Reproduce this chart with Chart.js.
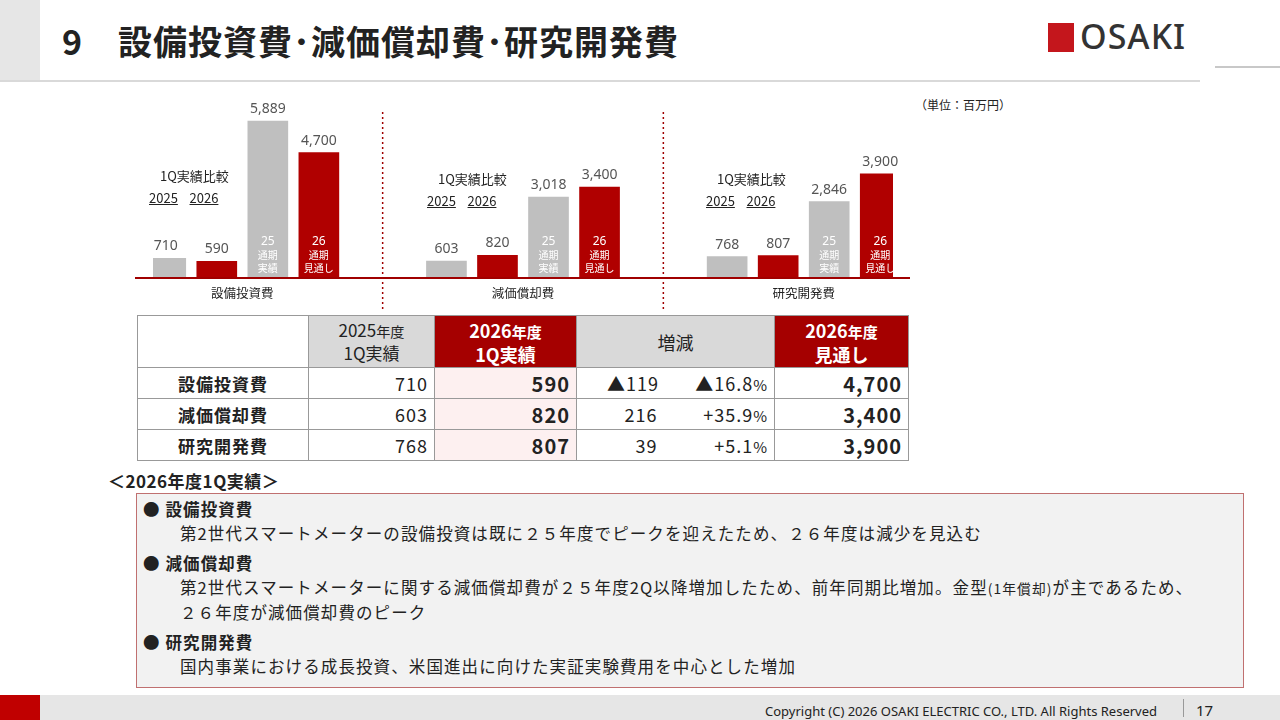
<!DOCTYPE html>
<html><head><meta charset="utf-8">
<script src="https://cdn.jsdelivr.net/npm/chart.js@4"></script>
<style>
body{margin:0;width:1280px;height:720px;position:relative;background:#fff;font-family:"Noto Sans CJK JP","Noto Sans",sans-serif;color:#222;overflow:hidden}
.abs{position:absolute}
#side{left:0;top:0;width:40px;height:80px;background:#e6e6e6}
#title{left:62px;top:16px;font-size:34px;font-weight:bold;letter-spacing:1px;white-space:nowrap}
#hline{left:0;top:80px;width:1200px;height:2px;background:#d9d9d9}
#hline2{left:1215px;top:66px;width:65px;height:2px;background:#c8c8c8}
#logo{left:1048px;top:13px;font-size:34px;font-family:"Noto Sans";font-weight:500;color:#333;letter-spacing:1px}
#logo span{display:inline-block;width:26px;height:29px;background:#c4161c;vertical-align:-3px;margin-right:6px}
#unit{left:915px;top:96px;font-size:12px}
canvas{position:absolute;left:131px;top:95px}
.sub{font-size:13px;text-align:center;white-space:nowrap}
.u{text-decoration:underline}
table{position:absolute;left:137px;top:315px;border-collapse:collapse;font-size:18px;table-layout:fixed;width:771px}
td{border:1px solid #999;height:30px;padding:0 6px;letter-spacing:1px}
th{border:1px solid #999;font-weight:normal;font-size:17px;line-height:22px}
.r{text-align:right}
.rh{background:#a50000;color:#fff;font-weight:bold;font-size:18px}
.g{background:#d9d9d9}
.p{background:#fdf0f0;font-weight:bold;font-size:20px}
.b{font-weight:bold;font-size:20px}
#box{left:136px;top:493px;width:1106px;height:193px;background:#f2f2f2;border:1px solid #c07070}
#box div{font-size:16.5px;line-height:24px;letter-spacing:1.1px;white-space:nowrap}
#footer{left:0;top:695px;width:1280px;height:25px;background:#e6e6e6}
#fred{left:0;top:695px;width:40px;height:25px;background:#c00000}
#copy{left:765px;top:702px;font-size:13px;font-family:"Noto Sans"}
#page{left:1196px;top:700px;font-size:15px;font-family:"Noto Sans"}
</style></head><body>
<div id="side" class="abs"></div>
<div id="title" class="abs">9　設備投資費･減価償却費･研究開発費</div>
<div id="hline" class="abs"></div><div id="hline2" class="abs"></div>
<div id="logo" class="abs"><span></span>OSAKI</div>
<div id="unit" class="abs">（単位：百万円）</div>
<canvas id="c" width="779" height="215"></canvas>
<div class="abs sub" style="left:160px;top:166px">1Q実績比較</div>
<div class="abs sub" style="left:149px;top:188px"><span class="u">2025</span>&nbsp;&nbsp;&nbsp;&nbsp;<span class="u">2026</span></div>
<div class="abs sub" style="left:438px;top:169px">1Q実績比較</div>
<div class="abs sub" style="left:427px;top:191px"><span class="u">2025</span>&nbsp;&nbsp;&nbsp;&nbsp;<span class="u">2026</span></div>
<div class="abs sub" style="left:717px;top:169px">1Q実績比較</div>
<div class="abs sub" style="left:706px;top:191px"><span class="u">2025</span>&nbsp;&nbsp;&nbsp;&nbsp;<span class="u">2026</span></div>
<table>
<colgroup><col style="width:171px"><col style="width:126px"><col style="width:142px"><col style="width:99px"><col style="width:99px"><col style="width:134px"></colgroup>
<tr style="height:52px"><th></th><th class="g">2025<small>年度</small><br>1Q実績</th><th class="rh">2026<small>年度</small><br>1Q実績</th><th class="g" colspan="2" style="font-size:18px">増減</th><th class="rh">2026<small>年度</small><br>見通し</th></tr>
<tr><td class="b" style="text-align:center;font-size:17px">設備投資費</td><td class="r">710</td><td class="r p">590</td><td style="border-right:none;padding-left:30px">▲119</td><td class="r" style="border-left:none">▲16.8<small>%</small></td><td class="r b">4,700</td></tr>
<tr><td class="b" style="text-align:center;font-size:17px">減価償却費</td><td class="r">603</td><td class="r p">820</td><td class="r" style="border-right:none;padding-right:18px">216</td><td class="r" style="border-left:none">+35.9<small>%</small></td><td class="r b">3,400</td></tr>
<tr><td class="b" style="text-align:center;font-size:17px">研究開発費</td><td class="r">768</td><td class="r p">807</td><td class="r" style="border-right:none;padding-right:18px">39</td><td class="r" style="border-left:none">+5.1<small>%</small></td><td class="r b">3,900</td></tr>
</table>
<div class="abs" style="left:108px;top:468px;font-size:17px;font-weight:bold;letter-spacing:0.5px">＜2026年度1Q実績＞</div>
<div id="box" class="abs">
<div style="position:absolute;left:6px;top:3px;width:1090px">
<div><b>●&nbsp;設備投資費</b></div>
<div style="padding-left:37px">第2世代スマートメーターの設備投資は既に２５年度でピークを迎えたため、２６年度は減少を見込む</div>
<div style="margin-top:6px"><b>●&nbsp;減価償却費</b></div>
<div style="padding-left:37px">第2世代スマートメーターに関する減価償却費が２５年度2Q以降増加したため、前年同期比増加。金型<small>(1年償却)</small>が主であるため、<br>２６年度が減価償却費のピーク</div>
<div style="margin-top:6px"><b>●&nbsp;研究開発費</b></div>
<div style="padding-left:37px">国内事業における成長投資、米国進出に向けた実証実験費用を中心とした増加</div>
</div></div>
<div id="footer" class="abs"></div><div id="fred" class="abs"></div>
<div id="copy" class="abs">Copyright (C) 2026 OSAKI ELECTRIC CO., LTD. All Rights Reserved</div>
<div class="abs" style="left:1183px;top:699px;width:1px;height:18px;background:#999"></div>
<div id="page" class="abs">17</div>
<script>
const groups = ['設備投資費', '減価償却費', '研究開発費'];
const q1_2025 = [710, 603, 768];
const q1_2026 = [590, 820, 807];
const full2025 = [5889, 3018, 2846];
const plan2026 = [4700, 3400, 3900];
const innerLabels = ['25\n通期\n実績', '26\n通期\n見通し'];

// 29 half-slots: each group takes slots 0,2,4,6 from its start
const starts = [0, 11, 22];
const N = 29;
const labels = Array.from({length: N}, (_, i) => '');
const vals = new Array(N).fill(null);
const cols = new Array(N).fill('#bfbfbf');
const inner = new Array(N).fill('');
groups.forEach((g, i) => {
  const s = starts[i];
  vals[s] = q1_2025[i]; vals[s + 2] = q1_2026[i];
  vals[s + 4] = full2025[i]; vals[s + 6] = plan2026[i];
  cols[s + 2] = '#b00000'; cols[s + 6] = '#b00000';
  inner[s + 4] = innerLabels[0]; inner[s + 6] = innerLabels[1];
});

const deco = {
  id: 'deco',
  afterDatasetsDraw(chart) {
    const ctx = chart.ctx, x = chart.scales.x, y = chart.scales.y;
    const base = y.getPixelForValue(0);
    ctx.save();
    ctx.strokeStyle = '#a00000'; ctx.lineWidth = 2;
    ctx.beginPath(); ctx.moveTo(4, base + 1); ctx.lineTo(chart.width, base + 1); ctx.stroke();
    // separators
    ctx.setLineDash([2, 3]); ctx.lineWidth = 1.5;
    [8.5, 19.5].forEach(p => {
      const px = (x.getPixelForValue(Math.floor(p)) + x.getPixelForValue(Math.ceil(p))) / 2;
      ctx.beginPath(); ctx.moveTo(px, 17); ctx.lineTo(px, 215); ctx.stroke();
    });
    ctx.setLineDash([]);
    ctx.textAlign = 'center';
    chart.getDatasetMeta(0).data.forEach((bar, i) => {
      if (vals[i] == null) return;
      ctx.fillStyle = '#555'; ctx.font = '14px "Noto Sans"';
      ctx.textBaseline = 'bottom';
      ctx.fillText(vals[i].toLocaleString('en-US'), bar.x, bar.y - 5);
      if (inner[i]) {
        ctx.fillStyle = '#fff';
        ctx.textBaseline = 'top';
        const first = inner[i].split('\n');
        ctx.font = '12px "Noto Sans"'; ctx.fillText(first[0], bar.x, base - 41);
        ctx.font = '10px "Noto Sans CJK JP"';
        ctx.fillText(first[1], bar.x, base - 27); ctx.fillText(first[2], bar.x, base - 14);
      }
    });
    ctx.fillStyle = '#222'; ctx.font = '12.5px "Noto Sans CJK JP"'; ctx.textBaseline = 'middle';
    groups.forEach((g, i) => {
      const px = (x.getPixelForValue(starts[i] + 2) + x.getPixelForValue(starts[i] + 4)) / 2;
      ctx.fillText(g, px, base + 16);
    });
    ctx.restore();
  }
};

new Chart(document.getElementById('c'), {
  type: 'bar',
  data: { labels: labels, datasets: [{ data: vals, backgroundColor: cols, barThickness: 40 }] },
  options: {
    responsive: false, animation: false,
    layout: { padding: { left: 22, right: 17, top: 10, bottom: 33 } },
    plugins: { legend: { display: false }, tooltip: { enabled: false } },
    scales: { x: { display: false }, y: { display: false, min: 0, max: 6500 } }
  },
  plugins: [deco]
});
</script>
</body></html>
